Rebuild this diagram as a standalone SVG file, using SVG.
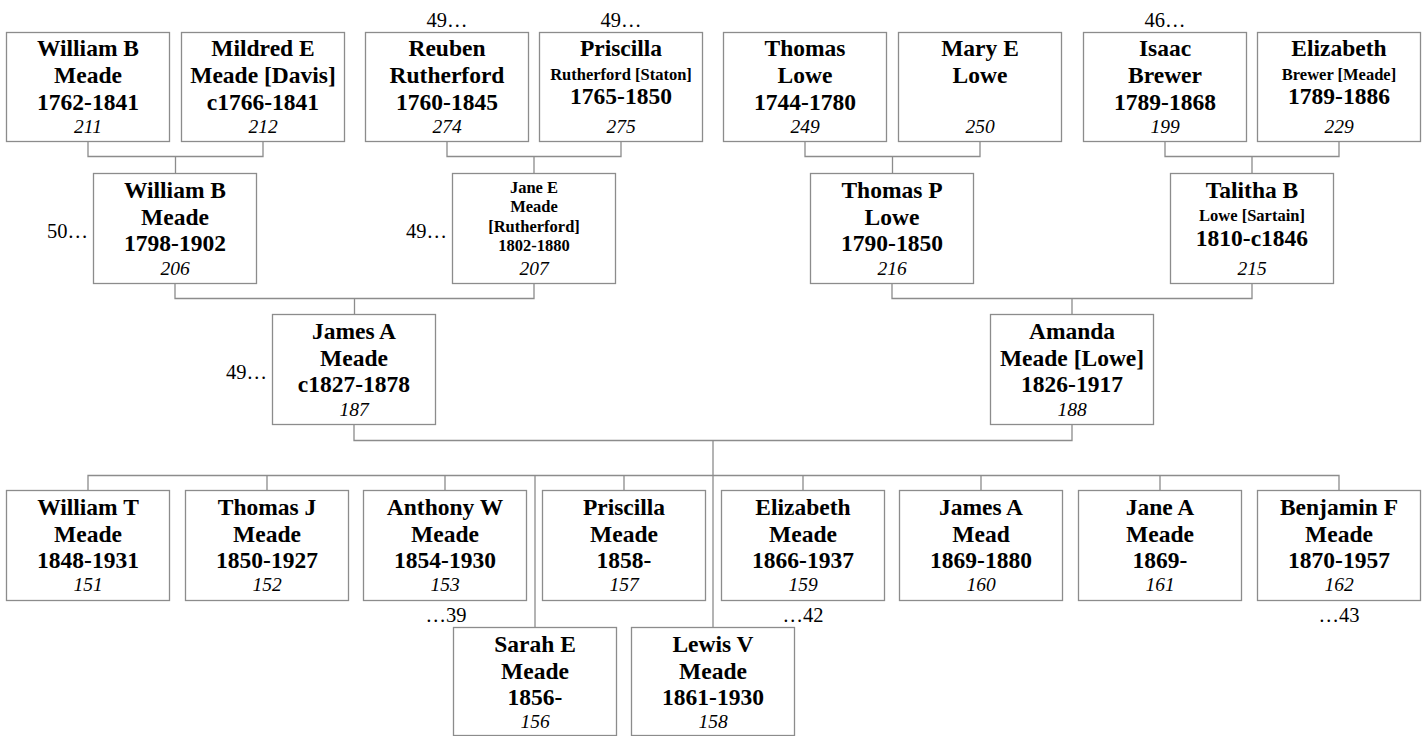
<svg xmlns="http://www.w3.org/2000/svg" width="1423" height="736" viewBox="0 0 1423 736">
<style>
  rect.b { fill: #ffffff; stroke: #8c8c8c; stroke-width: 1.3; }
  text { font-family: "Liberation Serif", "Times New Roman", serif; fill: #000; text-anchor: middle; }
  .n { font-weight: bold; font-size: 23.5px; }
  .s { font-weight: bold; font-size: 16.5px; }
  .id { font-style: italic; font-size: 19.5px; }
  .a { font-size: 20.5px; }
  .e { text-anchor: end; }
  #connectors path { fill: none; stroke: #8c8c8c; stroke-width: 1.3; }
</style>
<rect width="1423" height="736" fill="#ffffff"/>

<g id="connectors">
  <path d="M88 141.5 V156.5 H263 V141.5 M175.5 156.5 V173.5"/>
  <path d="M447 141.5 V156.5 H621 V141.5 M534 156.5 V173.5"/>
  <path d="M805 141.5 V156.5 H980 V141.5 M892.5 156.5 V173.5"/>
  <path d="M1165 141.5 V156.5 H1339 V141.5 M1252 156.5 V173.5"/>
  <path d="M175 283.5 V298.5 H534 V283.5 M354.5 298.5 V314.5"/>
  <path d="M892 283.5 V298.5 H1252 V283.5 M1072 298.5 V314.5"/>
  <path d="M354 424.5 V440.5 H1072 V424.5"/>
  <path d="M713 440.5 V627.5"/>
  <path d="M88 490.5 V475.5 H1339 V490.5"/>
  <path d="M267 475.5 V490.5 M445 475.5 V490.5 M624 475.5 V490.5 M803 475.5 V490.5 M981 475.5 V490.5 M1160 475.5 V490.5"/>
  <path d="M535 475.5 V627.5"/>
</g>

<!-- Generation 1 -->
<g id="p211">
  <rect class="b" x="6.5" y="32.5" width="163" height="109"/>
  <text class="n" x="88" y="56">William B</text>
  <text class="n" x="88" y="83">Meade</text>
  <text class="n" x="88" y="110">1762-1841</text>
  <text class="id" x="88" y="132.5">211</text>
</g>
<g id="p212">
  <rect class="b" x="181.5" y="32.5" width="163" height="109"/>
  <text class="n" x="263" y="56">Mildred E</text>
  <text class="n" x="263" y="83">Meade [Davis]</text>
  <text class="n" x="263" y="110">c1766-1841</text>
  <text class="id" x="263" y="132.5">212</text>
</g>
<g id="p274">
  <text class="a" x="447" y="27">49…</text>
  <rect class="b" x="365.5" y="32.5" width="163" height="109"/>
  <text class="n" x="447" y="56">Reuben</text>
  <text class="n" x="447" y="83">Rutherford</text>
  <text class="n" x="447" y="110">1760-1845</text>
  <text class="id" x="447" y="132.5">274</text>
</g>
<g id="p275">
  <text class="a" x="621" y="27">49…</text>
  <rect class="b" x="539.5" y="32.5" width="163" height="109"/>
  <text class="n" x="621" y="56">Priscilla</text>
  <text class="s" x="621" y="80">Rutherford [Staton]</text>
  <text class="n" x="621" y="104">1765-1850</text>
  <text class="id" x="621" y="132.5">275</text>
</g>
<g id="p249">
  <rect class="b" x="723.5" y="32.5" width="163" height="109"/>
  <text class="n" x="805" y="56">Thomas</text>
  <text class="n" x="805" y="83">Lowe</text>
  <text class="n" x="805" y="110">1744-1780</text>
  <text class="id" x="805" y="132.5">249</text>
</g>
<g id="p250">
  <rect class="b" x="898.5" y="32.5" width="163" height="109"/>
  <text class="n" x="980" y="56">Mary E</text>
  <text class="n" x="980" y="83">Lowe</text>
  <text class="id" x="980" y="132.5">250</text>
</g>
<g id="p199">
  <text class="a" x="1165" y="27">46…</text>
  <rect class="b" x="1083.5" y="32.5" width="163" height="109"/>
  <text class="n" x="1165" y="56">Isaac</text>
  <text class="n" x="1165" y="83">Brewer</text>
  <text class="n" x="1165" y="110">1789-1868</text>
  <text class="id" x="1165" y="132.5">199</text>
</g>
<g id="p229">
  <rect class="b" x="1257.5" y="32.5" width="163" height="109"/>
  <text class="n" x="1339" y="56">Elizabeth</text>
  <text class="s" x="1339" y="80">Brewer [Meade]</text>
  <text class="n" x="1339" y="104">1789-1886</text>
  <text class="id" x="1339" y="132.5">229</text>
</g>

<!-- Generation 2 -->
<g id="p206">
  <text class="a e" x="88" y="238">50…</text>
  <rect class="b" x="93.5" y="173.5" width="163" height="110"/>
  <text class="n" x="175" y="197.5">William B</text>
  <text class="n" x="175" y="224.5">Meade</text>
  <text class="n" x="175" y="251">1798-1902</text>
  <text class="id" x="175" y="275">206</text>
</g>
<g id="p207">
  <text class="a e" x="447" y="238">49…</text>
  <rect class="b" x="452.5" y="173.5" width="163" height="110"/>
  <text class="s" x="534" y="192.5">Jane E</text>
  <text class="s" x="534" y="212">Meade</text>
  <text class="s" x="534" y="231.5">[Rutherford]</text>
  <text class="s" x="534" y="251">1802-1880</text>
  <text class="id" x="534" y="275">207</text>
</g>
<g id="p216">
  <rect class="b" x="810.5" y="173.5" width="163" height="110"/>
  <text class="n" x="892" y="197.5">Thomas P</text>
  <text class="n" x="892" y="224.5">Lowe</text>
  <text class="n" x="892" y="251">1790-1850</text>
  <text class="id" x="892" y="275">216</text>
</g>
<g id="p215">
  <rect class="b" x="1170.5" y="173.5" width="163" height="110"/>
  <text class="n" x="1252" y="197.5">Talitha B</text>
  <text class="s" x="1252" y="221">Lowe [Sartain]</text>
  <text class="n" x="1252" y="246">1810-c1846</text>
  <text class="id" x="1252" y="275">215</text>
</g>

<!-- Generation 3 -->
<g id="p187">
  <text class="a e" x="267" y="379">49…</text>
  <rect class="b" x="272.5" y="314.5" width="163" height="110"/>
  <text class="n" x="354" y="339">James A</text>
  <text class="n" x="354" y="366">Meade</text>
  <text class="n" x="354" y="392">c1827-1878</text>
  <text class="id" x="354" y="415.5">187</text>
</g>
<g id="p188">
  <rect class="b" x="990.5" y="314.5" width="163" height="110"/>
  <text class="n" x="1072" y="339">Amanda</text>
  <text class="n" x="1072" y="366">Meade [Lowe]</text>
  <text class="n" x="1072" y="392">1826-1917</text>
  <text class="id" x="1072" y="415.5">188</text>
</g>

<!-- Children -->
<g id="p151">
  <rect class="b" x="6.5" y="490.5" width="163" height="110"/>
  <text class="n" x="88" y="515">William T</text>
  <text class="n" x="88" y="541.5">Meade</text>
  <text class="n" x="88" y="568">1848-1931</text>
  <text class="id" x="88" y="591">151</text>
</g>
<g id="p152">
  <rect class="b" x="185.5" y="490.5" width="163" height="110"/>
  <text class="n" x="267" y="515">Thomas J</text>
  <text class="n" x="267" y="541.5">Meade</text>
  <text class="n" x="267" y="568">1850-1927</text>
  <text class="id" x="267" y="591">152</text>
</g>
<g id="p153">
  <rect class="b" x="363.5" y="490.5" width="163" height="110"/>
  <text class="n" x="445" y="515">Anthony W</text>
  <text class="n" x="445" y="541.5">Meade</text>
  <text class="n" x="445" y="568">1854-1930</text>
  <text class="id" x="445" y="591">153</text>
  <text class="a" x="446" y="622">…39</text>
</g>
<g id="p157">
  <rect class="b" x="542.5" y="490.5" width="163" height="110"/>
  <text class="n" x="624" y="515">Priscilla</text>
  <text class="n" x="624" y="541.5">Meade</text>
  <text class="n" x="624" y="568">1858-</text>
  <text class="id" x="624" y="591">157</text>
</g>
<g id="p159">
  <rect class="b" x="721.5" y="490.5" width="163" height="110"/>
  <text class="n" x="803" y="515">Elizabeth</text>
  <text class="n" x="803" y="541.5">Meade</text>
  <text class="n" x="803" y="568">1866-1937</text>
  <text class="id" x="803" y="591">159</text>
  <text class="a" x="803" y="622">…42</text>
</g>
<g id="p160">
  <rect class="b" x="899.5" y="490.5" width="163" height="110"/>
  <text class="n" x="981" y="515">James A</text>
  <text class="n" x="981" y="541.5">Mead</text>
  <text class="n" x="981" y="568">1869-1880</text>
  <text class="id" x="981" y="591">160</text>
</g>
<g id="p161">
  <rect class="b" x="1078.5" y="490.5" width="163" height="110"/>
  <text class="n" x="1160" y="515">Jane A</text>
  <text class="n" x="1160" y="541.5">Meade</text>
  <text class="n" x="1160" y="568">1869-</text>
  <text class="id" x="1160" y="591">161</text>
</g>
<g id="p162">
  <rect class="b" x="1257.5" y="490.5" width="163" height="110"/>
  <text class="n" x="1339" y="515">Benjamin F</text>
  <text class="n" x="1339" y="541.5">Meade</text>
  <text class="n" x="1339" y="568">1870-1957</text>
  <text class="id" x="1339" y="591">162</text>
  <text class="a" x="1339" y="622">…43</text>
</g>
<g id="p156">
  <rect class="b" x="453.5" y="627.5" width="163" height="108"/>
  <text class="n" x="535" y="652">Sarah E</text>
  <text class="n" x="535" y="678.5">Meade</text>
  <text class="n" x="535" y="705">1856-</text>
  <text class="id" x="535" y="728">156</text>
</g>
<g id="p158">
  <rect class="b" x="631.5" y="627.5" width="163" height="108"/>
  <text class="n" x="713" y="652">Lewis V</text>
  <text class="n" x="713" y="678.5">Meade</text>
  <text class="n" x="713" y="705">1861-1930</text>
  <text class="id" x="713" y="728">158</text>
</g>
</svg>
